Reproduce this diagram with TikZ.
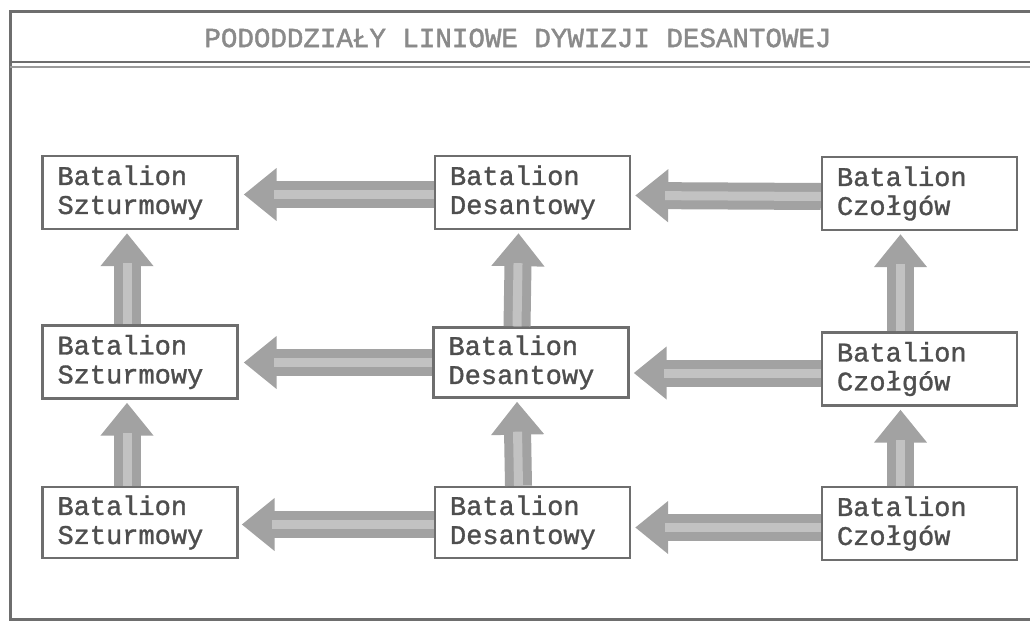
\documentclass[tikz,border=0pt]{standalone}
\usepackage{fontspec}
\newfontfamily\boxfont[FakeBold=1.2]{Liberation Mono}
\newfontfamily\titlefont[FakeBold=1.6]{Liberation Mono}
\usetikzlibrary{arrows.meta}
\definecolor{ink}{HTML}{4E4E4E}
\definecolor{frame}{HTML}{6E6E6E}
\definecolor{arrowfill}{HTML}{A2A2A2}
\definecolor{arrowlight}{HTML}{C2C2C2}
\definecolor{titleink}{HTML}{8A8A8A}
\tikzset{
  unitbox/.style={draw=frame, line width=2.4pt, rectangle, fill=white,
    minimum width=195pt, minimum height=73pt, text width=165pt, inner xsep=15pt,
    align=left, text=ink, font=\boxfont\fontsize{27}{29}\selectfont},
  bigarrow/.style={draw=arrowfill, line width=27pt,
    -{Triangle[length=33pt,width=51pt]}},
  arrowstripe/.style={draw=arrowlight, line width=9pt, shorten >=30pt},
}
\begin{document}
\begin{tikzpicture}[x=1pt,y=-1pt]
\useasboundingbox (0,0) rectangle (1030,623);
% outer frame
\draw[frame, line width=3pt] (1040,12) -- (10,12) -- (10,619) -- (1040,619);
\draw[frame, line width=2.5pt] (10,62) -- (1040,62);
\draw[frame!70, line width=2pt] (10,67) -- (1040,67);
\node[text=titleink, font=\titlefont\fontsize{27.5}{29}\selectfont] (title) at (518,38) {PODODDZIAŁY LINIOWE DYWIZJI DESANTOWEJ};
% boxes
\node[unitbox] (s1) at (140,192.5) {Batalion\\Szturmowy};
\node[unitbox] (d1) at (532.5,192.5) {Batalion\\Desantowy};
\node[unitbox] (c1) at (919.5,193.5) {Batalion\\Czołgów};
\node[unitbox] (s2) at (140,362) {Batalion\\Szturmowy};
\node[unitbox, minimum height=70pt] (d2) at (531,362.5) {Batalion\\Desantowy};
\node[unitbox] (c2) at (919.5,369) {Batalion\\Czołgów};
\node[unitbox, minimum height=71pt] (s3) at (140,522.5) {Batalion\\Szturmowy};
\node[unitbox, minimum height=71pt] (d3) at (532.5,522.5) {Batalion\\Desantowy};
\node[unitbox, minimum height=73pt] (c3) at (919.5,523.5) {Batalion\\Czołgów};
% anchor coordinates for arrows
\coordinate (h1a) at ([yshift=-2pt]d1.west);
\coordinate (h1b) at ([xshift=5pt,yshift=-2pt]s1.east);
\coordinate (h1c) at ([yshift=-3pt]c1.west);
\coordinate (h1d) at ([xshift=4pt,yshift=-3pt]d1.east);
\coordinate (h2a) at (d2.west);
\coordinate (h2b) at ([xshift=5pt]s2.east |- d2.west);
\coordinate (h2c) at ([yshift=-4pt]c2.west);
\coordinate (h2d) at ([xshift=4pt]d2.east |- h2c);
\coordinate (h3a) at ([yshift=-2pt]d3.west);
\coordinate (h3b) at ([xshift=3pt]s3.east |- h3a);
\coordinate (h3c) at ([yshift=-4pt]c3.west);
\coordinate (h3d) at ([xshift=4pt]d3.east |- h3c);
\coordinate (v1a) at ([xshift=-13pt]s2.north);
\coordinate (v1b) at ([xshift=-13pt,yshift=-3pt]s1.south);
\coordinate (v2a) at ([xshift=-14pt]d2.north);
\coordinate (v2b) at ([xshift=-14pt,yshift=-3pt]d1.south);
\coordinate (v3a) at ([xshift=-19pt]c2.north);
\coordinate (v3b) at ([xshift=-19pt,yshift=-3pt]c1.south);
\coordinate (v4a) at ([xshift=-13pt]s3.north);
\coordinate (v4b) at ([xshift=-13pt,yshift=-3pt]s2.south);
\coordinate (v5a) at ([xshift=-14pt]d3.north);
\coordinate (v5b) at ([xshift=-14pt,yshift=-3pt]d2.south);
\coordinate (v6a) at ([xshift=-19pt]c3.north);
\coordinate (v6b) at ([xshift=-19pt,yshift=-3pt]c2.south);
% arrows
\foreach \a/\b in {h1a/h1b,h1c/h1d,h2a/h2b,h2c/h2d,h3a/h3b,h3c/h3d,v1a/v1b,v2a/v2b,v3a/v3b,v4a/v4b,v5a/v5b,v6a/v6b}{
  \draw[bigarrow] (\a) -- (\b);
  \draw[arrowstripe] (\a) -- (\b);
}
\end{tikzpicture}
\end{document}
